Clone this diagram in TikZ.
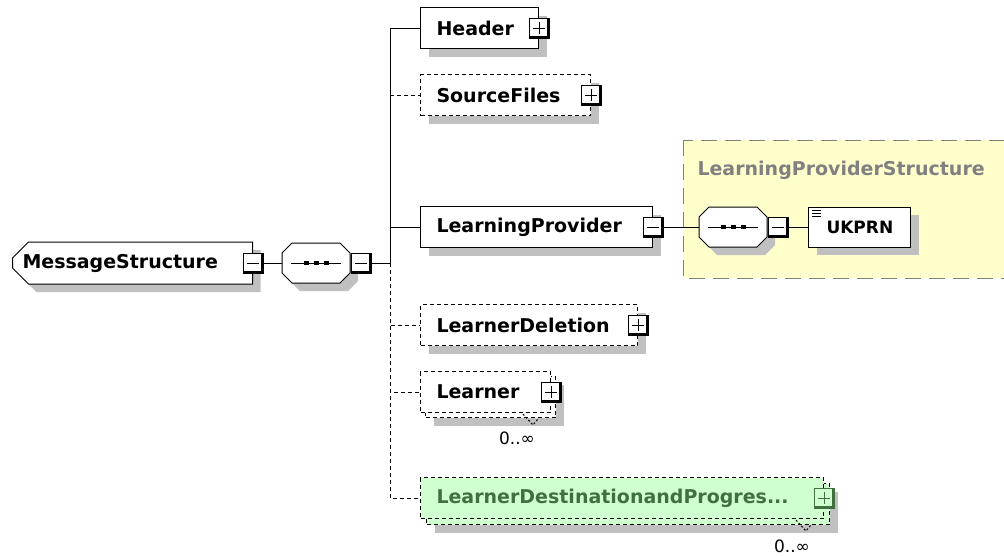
\documentclass[tikz,border=0pt]{standalone}
\usepackage{fontspec}
\setmainfont{DejaVu Sans}
\usetikzlibrary{shapes.misc,shadows}

\definecolor{shadowgray}{RGB}{192,192,192}
\definecolor{groupfill}{RGB}{255,255,204}
\definecolor{groupline}{RGB}{128,128,128}
\definecolor{optfill}{RGB}{208,255,208}
\definecolor{opttext}{RGB}{64,112,64}

\newcommand\elemfont{\bfseries\fontsize{19}{21}\selectfont}
\newcommand\multfont{\fontsize{17}{19}\selectfont}
\newcommand\pmedges{\draw[line width=4pt] (path picture bounding box.north east) -- (path picture bounding box.south east) -- (path picture bounding box.south west);}
\newcommand\pmminus{\draw ([xshift=-6pt]path picture bounding box.center) -- ([xshift=6pt]path picture bounding box.center);}
\newcommand\pmplus{\pmminus\draw ([yshift=-6pt]path picture bounding box.center) -- ([yshift=6pt]path picture bounding box.center);}

\tikzset{
	box/.style={draw, fill=white, minimum height=41pt, inner xsep=16pt, inner ysep=0pt, anchor=west, align=left, font=\elemfont},
	shaded/.style={drop shadow={shadow xshift=8pt, shadow yshift=-8pt, fill=shadowgray, opacity=1}},
	elem/.style={box, shaded},
	optelem/.style={box, shaded, dash pattern=on 4pt off 3pt},
	optstack/.style={box, dash pattern=on 4pt off 3pt},
	optline/.style={dash pattern=on 4pt off 3pt},
	pm/.style={draw, fill=white, minimum size=20pt, inner sep=0pt},
	plus/.style={pm, path picture={\pmedges\pmplus}},
	minus/.style={pm, path picture={\pmedges\pmminus}},
	seq/.style={rectangle, minimum width=68pt, minimum height=40pt, inner sep=0pt},
	topelem/.style={chamfered rectangle, chamfered rectangle corners={north west,south west}, chamfered rectangle xsep=8pt, chamfered rectangle ysep=8pt, draw, fill=white, minimum width=240pt, minimum height=42pt, inner xsep=2pt, inner ysep=0pt, anchor=west, align=left, font=\elemfont, shaded},
	stackmark/.style={dash pattern=on 2pt off 2pt},
}

\begin{document}
\begin{tikzpicture}[x=1pt, y=-1pt, line width=1pt]
	\useasboundingbox (0,0) rectangle (1004,555);

	% complex type group
	\draw[groupline, fill=groupfill, dash pattern=on 16pt off 8pt] (683,140) rectangle (1030,278);
	\node[anchor=base west, text=groupline, font=\elemfont, inner sep=0pt] (lpstitle) at (697,175) {LearningProviderStructure};

	% root and its sequence
	\node[topelem, text width=220pt] (ms) at (12,263) {MessageStructure};
	\node[minus] (msm) at (ms.east) {};
	\node[seq] (seq) at (316,263) {};
	\node[seq] (lps) at (733,227) {};
	\foreach \s in {seq,lps}{
		\fill[shadowgray, shift={(\s.center)}] (-26,-2) -- (-16,-12) -- (32,-12) -- (42,-2) -- (42,18) -- (32,28) -- (-16,28) -- (-26,18) -- cycle;
		\draw[fill=white, shift={(\s.center)}] (-34,-10) -- (-24,-20) -- (24,-20) -- (34,-10) -- (34,10) -- (24,20) -- (-24,20) -- (-34,10) -- cycle;
		\draw[shift={(\s.center)}] (-25,0) -- (25,0);
		\foreach \d in {-10,0,10}
			\fill[shift={(\s.center)}] (\d-2.5,-2) rectangle (\d+2.5,2);
	}
	\node[minus, anchor=west] (seqm) at (seq.east) {};
	\coordinate (fork) at (390,263);
	\draw (msm.east) -- (seq.west);
	\draw (seqm.east) -- (fork);

	% children
	\node[elem, text width=86pt] (header) at (420,28) {Header};
	\node[plus] (headerp) at (header.east) {};

	\node[optelem, text width=138pt] (src) at (420,95) {SourceFiles};
	\node[plus] (srcp) at (src.east) {};

	\node[elem, text width=200pt] (lp) at (420,227) {LearningProvider};
	\node[minus] (lpm) at (lp.east) {};

	\node[optelem, text width=185pt] (del) at (420,325) {LearnerDeletion};
	\node[plus] (delp) at (del.east) {};

	\node[optstack, shaded, text width=98pt] (lrnbk) at (425,397) {};
	\node[optstack, text width=98pt] (lrn) at (420,392) {Learner};
	\node[plus] (lrnp) at (lrn.east) {};
	\draw[stackmark] ([xshift=-28pt, yshift=-1pt]lrn.south east) -- ++(10pt,-11pt) -- ++(5pt,6pt);
	\node[font=\multfont, anchor=base, inner sep=0pt] (lrnmult) at (517,444) {0..∞};

	\node[optstack, shaded, fill=optfill, text width=371pt] (ldpbk) at (426,504) {};
	\node[optstack, fill=optfill, text=opttext, text width=371pt] (ldp) at (420,498) {LearnerDestinationandProgres...};
	\node[plus, fill=optfill, draw=opttext] (ldpp) at (ldp.east) {};
	\draw[stackmark] ([xshift=-28pt, yshift=-1pt]ldp.south east) -- ++(10pt,-11pt) -- ++(5pt,6pt);
	\node[font=\multfont, anchor=base, inner sep=0pt] (ldpmult) at (792,552) {0..∞};

	\draw (fork) |- (header.west);
	\draw (fork) |- (lp.west);
	\draw[optline] (fork) |- (src.west);
	\draw[optline] (fork) |- (del.west);
	\draw[optline] (fork) |- (lrn.west);
	\draw[optline] (fork) |- (ldp.west);

	% inside LearningProviderStructure
	\node[minus, anchor=west] (lpsm) at (lps.east) {};
	\node[elem, inner xsep=18pt, text width=66pt, minimum height=40pt, font=\bfseries\fontsize{17}{19}\selectfont] (ukprn) at (808,227) {UKPRN};
	\foreach \i in {4pt,7pt,10pt}
		\draw ([xshift=4pt, yshift=-\i]ukprn.north west) -- ++(9pt,0pt);
	\draw (lpm.east) -- (lps.west);
	\draw (lpsm.east) -- (ukprn.west);
\end{tikzpicture}
\end{document}
